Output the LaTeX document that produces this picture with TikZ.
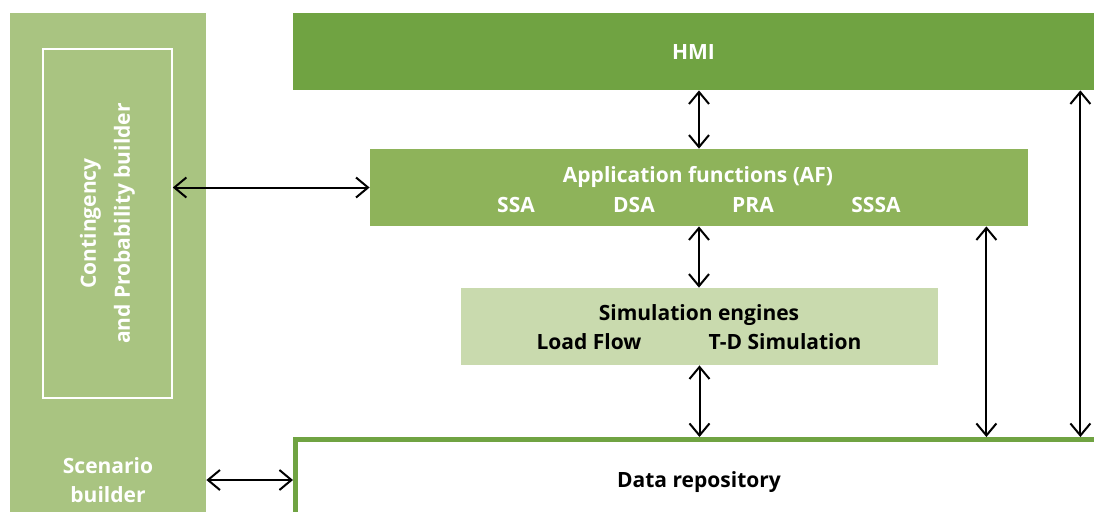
\documentclass[tikz,border=0pt]{standalone}
\usepackage{fontspec}
\setmainfont{Open Sans}
\usetikzlibrary{arrows.meta, positioning}
\definecolor{hmigreen}{HTML}{70A342}
\definecolor{afgreen}{HTML}{8EB35A}
\definecolor{simgreen}{HTML}{C9DAAE}
\definecolor{sidegreen}{HTML}{A9C481}
\tikzstyle{box} = [rectangle, inner sep=0pt, text centered, align=center, font=\bfseries\fontsize{10.5}{14.5}\selectfont]
\tikzstyle{hmibox} = [box, fill=hmigreen, text=white, minimum width=400.5pt, minimum height=38.5pt]
\tikzstyle{afbox} = [box, fill=afgreen, minimum width=329pt, minimum height=38.5pt]
\tikzstyle{simbox} = [box, fill=simgreen, minimum width=238.5pt, minimum height=38.5pt]
\tikzstyle{sidebox} = [box, fill=sidegreen, minimum width=98pt, minimum height=251pt]
\tikzstyle{contbox} = [box, draw=white, line width=0.8pt, minimum width=64.5pt, minimum height=174.5pt]
\tikzstyle{databox} = [box, draw=hmigreen, fill=white, line width=2.5pt, minimum width=407.25pt, minimum height=45.25pt]
\tikzstyle{txt} = [box, anchor=base]
\tikzstyle{arrow} = [line width=1pt, {Straight Barb[length=6pt,width=10pt]}-{Straight Barb[length=6pt,width=10pt]}]

\begin{document}
\begin{tikzpicture}[x=0.5pt, y=-0.5pt]
  \useasboundingbox (0,0) rectangle (1094,511);
  \clip (0,0) rectangle (1094,511);
  % Builders
  \node (side) [sidebox] at (108,264) {};
  \node (cont) [contbox] at (107.5,223.5) {};
  \node (conttxt) [box, text=white, rotate=90, font=\bfseries\fontsize{10.5}{17}\selectfont] at (cont) {Contingency\\and Probability builder};
  \node (scen) [box, text=white] at (108,480) {Scenario\\builder};
  % HMI
  \node (hmi) [hmibox] at (693.5,51.5) {HMI};
  % Application functions
  \node (af) [afbox] at (699,187.5) {};
  \node (aftitle) [txt, text=white] at (698,182) {Application functions (AF)};
  \node (ssa) [txt, text=white] at (516,212) {SSA};
  \node (dsa) [txt, text=white] at (634,212) {DSA};
  \node (pra) [txt, text=white] at (753,212) {PRA};
  \node (sssa) [txt, text=white] at (876,212) {SSSA};
  % Simulation engines
  \node (sim) [simbox] at (699.5,326.5) {};
  \node (simtitle) [txt] at (699,320) {Simulation engines};
  \node (loadflow) [txt] at (589,349) {Load Flow};
  \node (tdsim) [txt] at (785,349) {T-D Simulation};
  % Data repository
  \node (data) [databox] at (702.75,484.75) {};
  \node (datatxt) [txt] at (699,487) {Data repository};
  % Arrows
  \coordinate (afright) at ([xshift=-21pt]af.south east);
  \coordinate (hmiright) at ([xshift=-7pt]hmi.south east);
  \draw [arrow] (af.north) -- (af.north |- hmi.south);
  \draw [arrow] (cont.east |- af.west) -- (af.west);
  \draw [arrow] (af.south) -- (af.south |- sim.north);
  \draw [arrow] (sim.south) -- (sim.south |- data.north);
  \draw [arrow] (afright) -- (afright |- data.north);
  \draw [arrow] (hmiright) -- (hmiright |- data.north);
  \draw [arrow] (side.east |- scen) -- (data.west |- scen);
\end{tikzpicture}
\end{document}
